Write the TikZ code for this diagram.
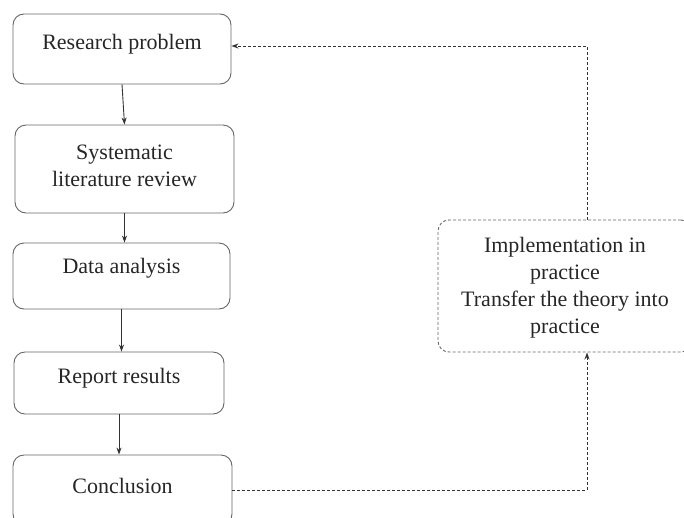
\documentclass[tikz,border=0pt]{standalone}
\usepackage{fontspec}
\setmainfont{Liberation Serif}
\usetikzlibrary{arrows.meta}

\begin{document}
\begin{tikzpicture}[x=1pt,y=-1pt,
  font=\fontsize{22}{27}\selectfont,
  box/.style={draw=black!60, line width=0.9pt, rounded corners=11pt, inner sep=0pt},
  dbox/.style={box, dash pattern=on 3pt off 2pt},
  txt/.style={align=center, text=black!85},
  flow/.style={draw=black!80, line width=0.9pt, -{Stealth[length=7pt,width=5pt]}},
  dflow/.style={flow, dash pattern=on 3pt off 2pt}]
 \useasboundingbox (0,0) rectangle (684,517);
 % main column
 \node[box, minimum width=218pt, minimum height=70pt,
       label={[txt,yshift=5pt]center:Research problem}] (problem) at (122,49) {};
 \node[box, minimum width=219pt, minimum height=88pt,
       label={[txt,yshift=3pt]center:Systematic\\literature review}] (review) at (124.5,169) {};
 \node[box, minimum width=217pt, minimum height=66pt,
       label={[txt,yshift=8pt]center:Data analysis}] (analysis) at (121.5,276) {};
 \node[box, minimum width=210pt, minimum height=62pt,
       label={[txt,yshift=5pt]center:Report results}] (report) at (119,383) {};
 \node[box, minimum width=219pt, minimum height=70pt,
       label={[txt,yshift=4pt]center:Conclusion}] (conclusion) at (122.5,490) {};
 % feedback box
 \node[dbox, minimum width=254pt, minimum height=132pt,
       label={[txt,yshift=-2pt]center:Implementation in\\practice\\Transfer the theory into\\practice}] (practice) at (565,286) {};
 \coordinate (turn) at (587,46);

 \draw[flow] (problem.south) -- (review.north);
 \draw[flow] (review.south) -- (review.south |- analysis.north);
 \draw[flow] (analysis.south) -- (analysis.south |- report.north);
 \draw[flow] (report.south) -- (report.south |- conclusion.north);
 \draw[dflow] (conclusion.east) -- (conclusion.east -| turn) -- (practice.south -| turn);
 \draw[dflow] (practice.north -| turn) -- (turn) -- (problem.east |- turn);
\end{tikzpicture}
\end{document}
